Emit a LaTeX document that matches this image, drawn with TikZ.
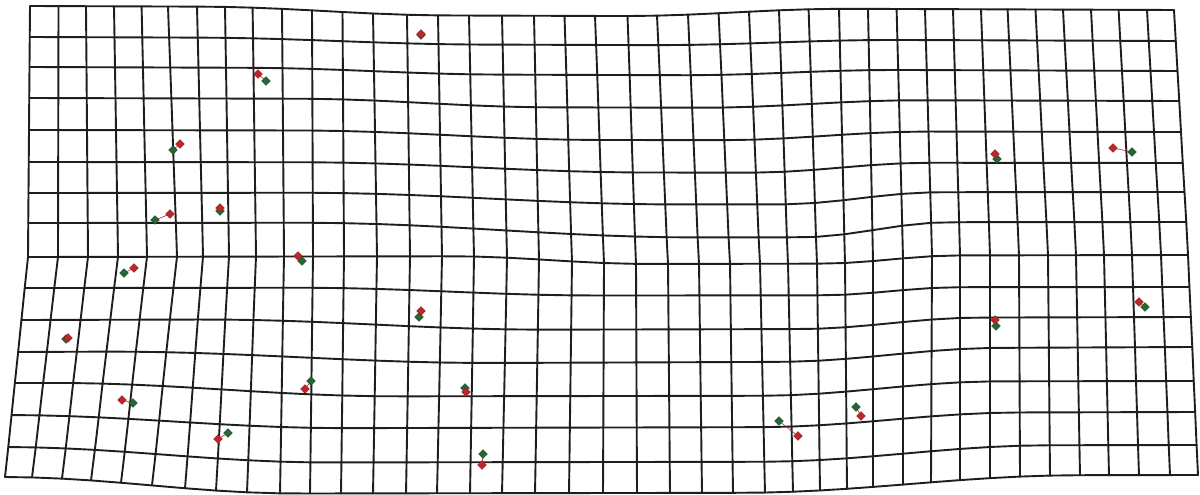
\documentclass[tikz,border=0pt]{standalone}
\usetikzlibrary{shapes.geometric}
\definecolor{gridc}{RGB}{30,30,30}
\definecolor{mred}{RGB}{190,38,42}
\definecolor{mgreen}{RGB}{36,104,56}
\tikzset{
  gridline/.style={draw=gridc, line width=1.9pt, line join=round, line cap=round},
  redmk/.style={shape=diamond, fill=mred, draw=mred!70!black, line width=0.4pt, inner sep=0pt, minimum size=9pt},
  greenmk/.style={shape=diamond, fill=mgreen, draw=mgreen!70!black, line width=0.4pt, inner sep=0pt, minimum size=9pt},
  link/.style={draw=mred, line width=0.6pt}
}
\begin{document}
\begin{tikzpicture}[x=1pt,y=-1pt]
\useasboundingbox[fill=white] (0,0) rectangle (1200,495);
\def\xtop{{30,58.5,86,114,141.6,168,197,225,252.6,282,312,342.5,373,407,438,469,502,534,564.5,595,627.5,657,688,718.6,749,779,808.6,839,868,896.6,925,953,981,1007.6,1035.5,1063,1091,1118.6,1147,1174}}
\def\xmid{{28,58,88,118,147,177,203,229,256,284,313,344,377,410,442,474,507,539,572,604,636,668,699,730,760,788,817,845,873,903,932,960,990,1019,1048,1076,1104,1132,1161,1188}}
\def\xbot{{5,32,62,91,121,152,185,216,247,280,310,341,373,406,437,470,502,535,569,603,637,670,702,733,765,793,820,847,873,903,931,960,990,1020,1050,1080,1109,1139,1170,1198}}
\def\rowL{{6,37,67,98,130,162,193,223,257,288,320,352,383,415,447,477}}
\def\rowR{{10,41,71,101,132,163,192,222,255,287,317,347,381,412,445,475}}
\def\rowA{{8,6,6,8,9,10,12,15,8,8,11,13,14,14,16,17}}
\def\rowUa{{200,200,250,300,300,300,300,300,450,300,200,100,50,0,0,0}}
\def\rowUb{{450,480,500,550,600,650,680,700,650,600,550,500,400,350,330,300}}
\def\rowUc{{620,650,680,700,720,750,780,800,820,820,800,780,760,760,760,740}}
\def\rowUd{{850,900,900,920,930,930,940,950,960,960,980,1000,1000,1020,1050,1080}}
\foreach \j in {0,...,15}{
  \pgfmathsetmacro\rl{\rowL[\j]}
  \pgfmathsetmacro\rr{\rowR[\j]}
  \pgfmathsetmacro\ram{\rowA[\j]}
  \pgfmathsetmacro\ua{\rowUa[\j]}
  \pgfmathsetmacro\ub{\rowUb[\j]}
  \pgfmathsetmacro\uc{\rowUc[\j]}
  \pgfmathsetmacro\ud{\rowUd[\j]}
  \foreach \i in {0,...,39}{
    \pgfmathsetmacro\xa{\xtop[\i]}
    \pgfmathsetmacro\xb{\xmid[\i]}
    \pgfmathsetmacro\xc{\xbot[\i]}
    \pgfmathsetmacro\X{\j<=8 ? \xa+(\xb-\xa)*\j/8 : \xb+(\xc-\xb)*(\j-8)/7}
    \pgfmathsetmacro\sa{max(0,min(1,(\X-\ua)/(\ub-\ua)))}
    \pgfmathsetmacro\sb{max(0,min(1,(\X-\uc)/(\ud-\uc)))}
    \pgfmathsetmacro\Y{\rl+(\rr-\rl)*\i/39+\ram*(1-cos(180*\sa))/2*(1+cos(180*\sb))/2}
    \coordinate (p-\i-\j) at (\X,\Y);
  }
}
\foreach \j in {0,...,15}{
  \draw[gridline] (p-0-\j) \foreach \i in {1,...,39}{ -- (p-\i-\j) };
}
\foreach \i in {0,...,39}{
  \draw[gridline] (p-\i-0) \foreach \j in {1,...,15}{ -- (p-\i-\j) };
}
\foreach \n/\gx/\gy/\rx/\ry in {
  1/421/35/421/34, 2/266/81/258/74, 3/173/150/180/144, 4/155/220/170/214,
  5/220/211/220/208, 6/302/261/298/256, 7/124/273/134/268, 8/66/339/68/338,
  9/133/403/122/400, 10/228/433/218/439, 11/311/381/305/389, 12/419/317/421/311,
  13/465/388/466/392, 14/483/454/482/465, 15/779/421/798/436, 16/856/407/861/416,
  17/997/159/995/154, 18/1132/152/1113/148, 19/996/326/995/320, 20/1145/307/1139/302}{
  \coordinate (gc\n) at (\gx,\gy);
  \coordinate (rc\n) at (\rx,\ry);
  \draw[link] (gc\n) -- (rc\n);
  \node[greenmk] (g\n) at (gc\n) {};
  \node[redmk] (r\n) at (rc\n) {};
}
\end{tikzpicture}
\end{document}
